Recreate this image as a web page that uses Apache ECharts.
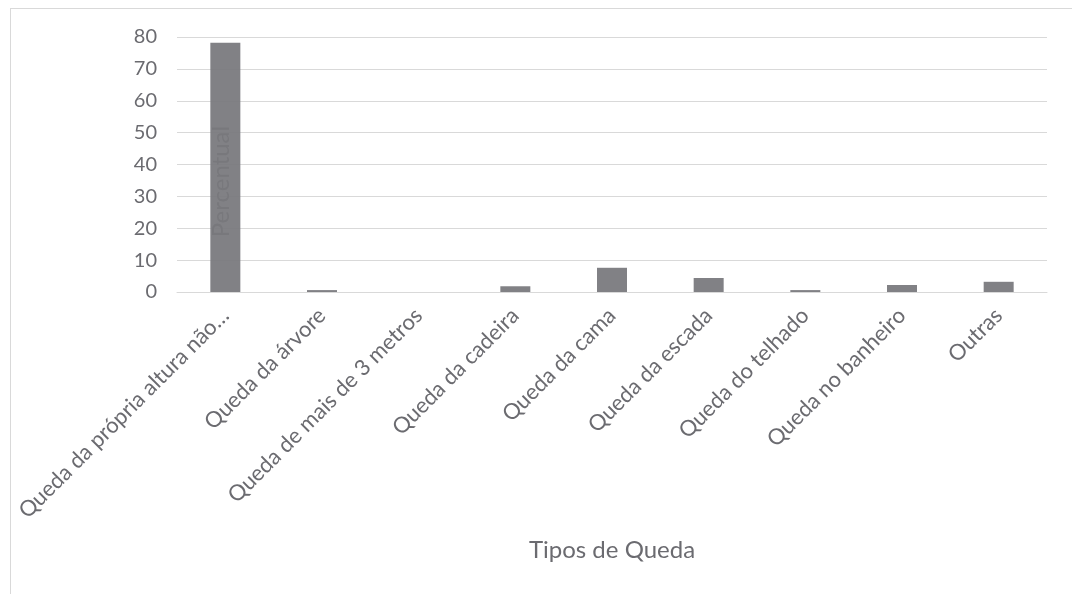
<!DOCTYPE html>
<html>
<head>
<meta charset="utf-8">
<script src="https://cdn.jsdelivr.net/npm/echarts@6/dist/echarts.min.js"></script>
<style>
html,body{margin:0;padding:0;background:#fff;}
#frame{position:absolute;left:10px;top:8px;width:1062px;height:586px;border-left:1px solid #d9d9d9;border-top:1px solid #d9d9d9;box-sizing:border-box;}
#chart{width:1072px;height:594px;}
</style>
</head>
<body>
<div id="frame"></div>
<div id="chart"></div>
<script>
const categories = [
  "Queda da própria altura não…",
  "Queda da árvore",
  "Queda de mais de 3 metros",
  "Queda da cadeira",
  "Queda da cama",
  "Queda da escada",
  "Queda do telhado",
  "Queda no banheiro",
  "Outras"
];
const values = [78.2, 0.6, 0, 1.8, 7.6, 4.4, 0.6, 2.2, 3.2];
const yTicks = [0, 10, 20, 30, 40, 50, 60, 70, 80];

const FONT = "Lato";
const TXT = "#6b6b70";
const chart = echarts.init(document.getElementById('chart'), null, {renderer: 'canvas'});
chart.setOption({
  backgroundColor: 'transparent',
  animation: false,
  grid: {left: 177, right: 25, top: 37, bottom: 302},
  xAxis: {
    type: 'category',
    data: categories,
    name: 'Tipos de Queda',
    nameLocation: 'middle',
    nameGap: 246,
    nameTextStyle: {color: TXT, fontFamily: FONT, fontSize: 24},
    axisLine: {lineStyle: {color: '#d9d9d9', width: 1}},
    axisTick: {show: false},
    axisLabel: {rotate: 45, color: TXT, fontFamily: FONT, fontSize: 22, margin: 20, interval: 0}
  },
  yAxis: {
    type: 'value',
    min: 0, max: 80, interval: 10,
    name: 'Percentual',
    nameLocation: 'middle',
    nameGap: -56,
    nameTextStyle: {color: '#505054', fontFamily: FONT, fontSize: 24, padding: [0, 34, 0, 0]},
    axisLine: {show: false},
    axisTick: {show: false},
    splitLine: {lineStyle: {color: '#d9d9d9', width: 1}},
    axisLabel: {color: TXT, fontFamily: FONT, fontSize: 20, margin: 20,
      formatter: v => yTicks.includes(v) ? String(v) : ''}
  },
  series: [{
    type: 'bar',
    data: values,
    barWidth: 30,
    itemStyle: {color: '#7a7a7e', opacity: 0.95},
    z: 2
  }]
});
</script>
</body>
</html>
